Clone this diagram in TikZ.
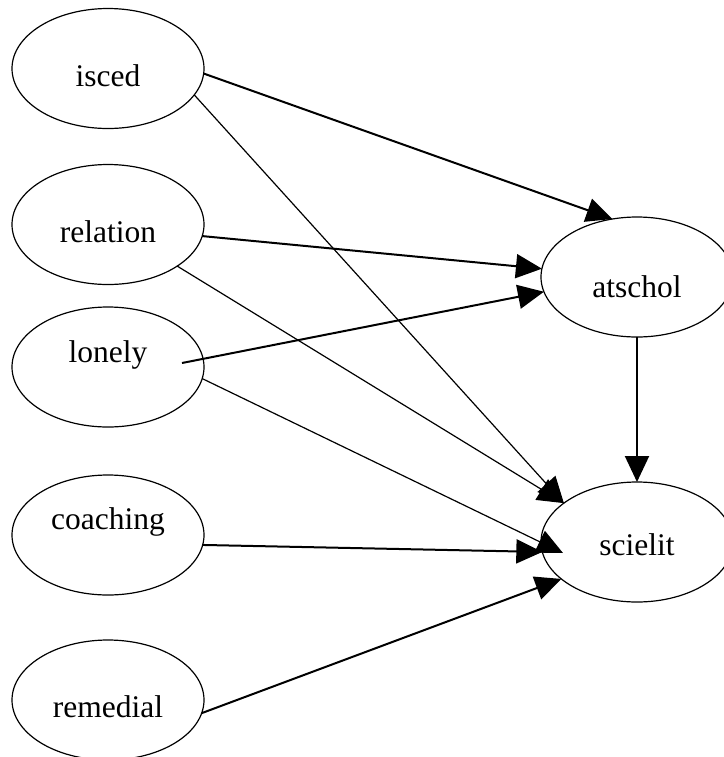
\documentclass[tikz,border=0pt]{standalone}
\usepackage{fontspec}
\setmainfont{Liberation Serif}
\usetikzlibrary{arrows.meta, shapes.geometric}

\begin{document}
\begin{tikzpicture}[x=0.5pt, y=-0.5pt]
                \tikzstyle{var} = [shape=ellipse, draw, line width=0.6pt, minimum width=96pt, minimum height=60pt, inner sep=0pt, outer sep=0pt];
                \tikzstyle{txt} = [font=\fontsize{15.75}{18}\selectfont, text height=11pt, text depth=3pt, inner sep=0pt];
                \tikzstyle{strong} = [-{Triangle[length=13pt,width=12pt]}, line width=1pt];
                \tikzstyle{weak} = [-{Triangle[length=13pt,width=12pt]}, line width=0.6pt];

                \useasboundingbox (0,0) rectangle (724,757);

                \node[var, label={[txt,yshift=-4.75pt]center:isced}](isced) at (108,68.5) {};
                \node[var, label={[txt,yshift=-4.75pt]center:relation}](relation) at (108,224.5) {};
                \node[var, label={[txt,yshift=6.5pt]center:lonely}](lonely) at (108,367) {};
                \node[var, label={[txt,yshift=7pt]center:coaching}](coaching) at (108,535) {};
                \node[var, label={[txt,yshift=-4.5pt]center:remedial}](remedial) at (108,700) {};
                \node[var, label={[txt,yshift=-6pt]center:atschol}](atschol) at (637,277) {};
                \node[var, label={[txt,yshift=-2.5pt]center:scielit}](scielit) at (637,542) {};

                \coordinate (lonelyin) at ([xshift=37pt,yshift=2pt]lonely.center);
                \coordinate (scielitin) at ([xshift=-37pt,yshift=-5.5pt]scielit.center);

                \path[strong]
                    (isced.-3) edge (atschol.113)
                    (relation.-7) edge (atschol.175)
                    (lonelyin) edge (atschol.-171)
                    (coaching.-6) edge (scielit.-174)
                    (remedial.-8) edge (scielit.-154)
                    (atschol.south) edge (scielit.north)
                ;
                \path[weak]
                    (isced.-17) edge (scielit.152)
                    (relation.-31) edge (scielit.152)
                    (lonely.-7) edge (scielitin)
                ;
            \end{tikzpicture}
\end{document}
